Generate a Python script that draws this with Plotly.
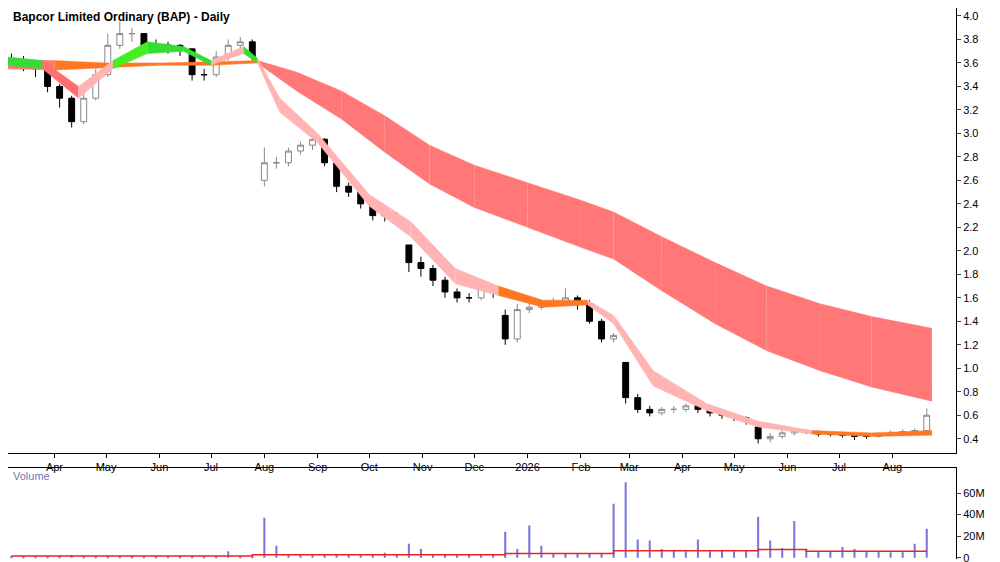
import plotly.graph_objects as go
import pandas as pd

dates = pd.date_range("2025-03-07", periods=77, freq="W-FRI")
close = [3.60,3.60,3.55,3.40,3.30,3.10,3.30,3.50,3.75,3.85,3.85,3.75,3.75,3.75,3.72,3.50,3.50,3.65,3.75,3.78,3.65,
         2.75,2.75,2.85,2.90,2.95,2.75,2.55,2.50,2.40,2.30,2.30,2.30,1.90,1.85,1.75,1.65,1.60,1.60,1.68,1.65,1.25,
         1.50,1.52,1.55,1.55,1.60,1.55,1.40,1.25,1.28,0.75,0.65,0.62,0.65,0.65,0.68,0.65,0.62,0.60,0.58,0.55,0.40,
         0.42,0.45,0.47,0.46,0.44,0.44,0.43,0.42,0.42,0.43,0.45,0.46,0.47,0.60]
opens = [3.62,3.60,3.60,3.55,3.40,3.30,3.10,3.30,3.50,3.75,3.85,3.85,3.75,3.75,3.75,3.72,3.50,3.50,3.65,3.75,3.78,
         2.60,2.75,2.75,2.85,2.90,2.95,2.75,2.55,2.50,2.40,2.30,2.30,2.05,1.90,1.85,1.75,1.65,1.60,1.60,1.68,1.45,
         1.25,1.50,1.52,1.55,1.55,1.60,1.55,1.40,1.25,1.05,0.75,0.65,0.62,0.65,0.65,0.68,0.65,0.62,0.60,0.58,0.50,
         0.40,0.42,0.45,0.47,0.46,0.44,0.44,0.43,0.42,0.42,0.43,0.45,0.46,0.47]
high = [3.68,3.66,3.62,3.58,3.42,3.32,3.35,3.55,3.85,3.95,3.90,3.85,3.80,3.78,3.76,3.72,3.55,3.70,3.80,3.82,3.80,
        2.88,2.80,2.88,2.93,2.98,2.96,2.78,2.58,2.52,2.42,2.35,2.33,2.05,1.95,1.88,1.78,1.68,1.64,1.72,1.70,1.50,
        1.55,1.56,1.58,1.60,1.68,1.62,1.58,1.42,1.30,1.05,0.78,0.68,0.67,0.68,0.70,0.70,0.67,0.64,0.61,0.59,0.52,
        0.45,0.47,0.49,0.48,0.47,0.46,0.45,0.44,0.44,0.45,0.47,0.48,0.49,0.66]
low = [3.55,3.53,3.48,3.35,3.22,3.05,3.08,3.28,3.48,3.72,3.78,3.70,3.70,3.68,3.66,3.45,3.45,3.48,3.62,3.72,3.62,
       2.55,2.70,2.72,2.82,2.86,2.72,2.50,2.46,2.36,2.26,2.25,2.25,1.82,1.78,1.70,1.60,1.56,1.56,1.58,1.60,1.20,
       1.22,1.47,1.50,1.52,1.53,1.50,1.38,1.22,1.22,0.70,0.62,0.59,0.60,0.62,0.63,0.62,0.59,0.57,0.55,0.52,0.36,
       0.37,0.40,0.43,0.44,0.42,0.42,0.41,0.39,0.40,0.41,0.42,0.44,0.45,0.46]
volume_m = [1.5,1.3,1.2,1.6,1.8,2.5,1.5,1.6,1.8,1.7,1.5,1.4,1.3,1.2,1.6,1.8,1.3,1.5,6.0,1.4,1.6,
            37,11,3,2.8,3,2.9,3.1,3.0,3.2,3.1,4.5,3.2,13,8,3.5,3.2,3.0,3.1,3.3,3.5,24,
            8,30,11,4,4,3.8,4,4.2,50,70,17,16,8,7,6,17,6,6.5,6,7,38,
            16,9,34,8,6,6,10,8,6,6,5,5,13,27]
vol_ma_m = [1.5]*20 + [2.8]*21 + [4.0]*9 + [6.5]*12 + [7.5]*4 + [6.0]*11

# slow (long-term) MMA band
slow_dates = pd.to_datetime(["2025-03-05","2025-04-01","2025-05-01","2025-06-01","2025-07-01","2025-07-28",
              "2025-08-20","2025-09-15","2025-10-10","2025-11-05","2025-12-01","2026-01-01","2026-02-01","2026-02-20",
              "2026-03-20","2026-04-20","2026-05-20","2026-06-20","2026-07-20","2026-08-24"])
slow_top = [3.63,3.62,3.60,3.60,3.61,3.62,3.52,3.36,3.15,2.90,2.73,2.58,2.43,2.33,2.12,1.90,1.70,1.55,1.44,1.34]
slow_bot = [3.55,3.54,3.56,3.58,3.58,3.60,3.36,3.12,2.84,2.57,2.37,2.20,2.03,1.93,1.66,1.38,1.15,0.98,0.84,0.72]
slow_col = ["#ff7777","#ff7722","#ff7722","#ff7722","#ff7722"] + ["#ff7777"]*14
# fast MMA band
fast_dates = pd.to_datetime(["2025-03-05","2025-03-25","2025-04-15","2025-05-05","2025-05-25","2025-06-15","2025-07-01",
              "2025-07-20","2025-07-28","2025-08-10","2025-09-01","2025-10-01","2025-10-25","2025-11-20","2025-12-15",
              "2026-01-10","2026-02-05","2026-02-20","2026-03-15","2026-04-15","2026-05-15","2026-06-15","2026-07-20","2026-08-24"])
fast_top = [3.65,3.62,3.40,3.62,3.78,3.74,3.62,3.74,3.64,3.30,3.00,2.48,2.25,1.85,1.70,1.58,1.58,1.45,0.98,0.70,0.55,0.47,0.45,0.47]
fast_bot = [3.58,3.55,3.30,3.55,3.68,3.70,3.58,3.68,3.60,3.18,2.92,2.38,2.12,1.72,1.62,1.52,1.54,1.38,0.85,0.64,0.50,0.44,0.42,0.43]
fast_col = ["#33dd33","#ff6f6f","#ffb3b3","#44ee22","#33dd33","#33dd33","#ffb3b3","#33dd33","#ffb3b3","#ffb3b3","#ffb3b3",
            "#ffb3b3","#ffb3b3","#ffb3b3","#ff7722","#ff7722","#ffb3b3","#ffb3b3","#ffb3b3","#ffb3b3","#ffb3b3","#ff7722","#ff7722","#44ee22"]

fig = go.Figure()

def band(d, top, bot, cols):
    for i in range(len(d)-1):
        c = cols[i]
        fig.add_trace(go.Scatter(x=[d[i], d[i+1]], y=[bot[i], bot[i+1]], mode="lines",
                                 line=dict(width=0.5, color=c), showlegend=False, hoverinfo="skip"))
        fig.add_trace(go.Scatter(x=[d[i], d[i+1]], y=[top[i], top[i+1]], mode="lines", fill="tonexty",
                                 fillcolor=c, line=dict(width=0.5, color=c), showlegend=False, hoverinfo="skip"))

band(slow_dates, slow_top, slow_bot, slow_col)
band(fast_dates, fast_top, fast_bot, fast_col)

fig.add_trace(go.Candlestick(x=dates, open=opens, high=high, low=low, close=close,
                             increasing=dict(line=dict(color="#888888", width=1), fillcolor="white"),
                             decreasing=dict(line=dict(color="black", width=1), fillcolor="black"),
                             whiskerwidth=0, showlegend=False, yaxis="y", xaxis="x"))

fig.add_trace(go.Bar(x=dates, y=volume_m, marker=dict(color="#7777dd", line=dict(width=0)), width=1.2*86400000,
                     xaxis="x2", yaxis="y2", showlegend=False))
fig.add_trace(go.Scatter(x=dates, y=vol_ma_m, mode="lines", line=dict(color="#ee2222", width=1.5, shape="hv"),
                         xaxis="x2", yaxis="y2", showlegend=False))

months = pd.to_datetime(["2025-04-01","2025-05-01","2025-06-01","2025-07-01","2025-08-01","2025-09-01","2025-10-01",
                         "2025-11-01","2025-12-01","2026-01-01","2026-02-01","2026-03-01","2026-04-01","2026-05-01",
                         "2026-06-01","2026-07-01","2026-08-01"])
month_labels = ["Apr","May","Jun","Jul","Aug","Sep","Oct","Nov","Dec","2026","Feb","Mar","Apr","May","Jun","Jul","Aug"]
xr = ["2025-03-05", "2026-09-07"]
price_ticks = [0.4,0.6,0.8,1.0,1.2,1.4,1.6,1.8,2.0,2.2,2.4,2.6,2.8,3.0,3.2,3.4,3.6,3.8,4.0]

font = dict(family="Liberation Sans, Arial", size=11, color="black")
fig.update_layout(
    width=1000, height=562, margin=dict(l=0, r=52, t=0, b=0),
    paper_bgcolor="white", plot_bgcolor="white", font=font, showlegend=False,
    xaxis=dict(range=xr, domain=[0,1], anchor="y", rangeslider=dict(visible=False), showgrid=False,
               tickvals=months, ticktext=month_labels, ticks="outside", ticklen=4, tickcolor="black",
               showline=True, linecolor="black", tickfont=dict(size=11, color="black"), zeroline=False),
    yaxis=dict(domain=[0.203,1], range=[0.281,4.068], side="right", showgrid=False, tickvals=price_ticks,
               tickformat=".1f", ticks="outside", ticklen=4, showline=True, linecolor="black", zeroline=False),
    xaxis2=dict(range=xr, domain=[0,1], anchor="y2", showticklabels=False, showgrid=False, showline=True,
                linecolor="black", zeroline=False, side="top"),
    yaxis2=dict(domain=[0.012,0.175], range=[-1.5,83], side="right", showgrid=False, tickvals=[0,20,40,60],
                ticktext=["0","20M","40M","60M"], ticks="outside", ticklen=4, showline=True, linecolor="black",
                zeroline=False),
    annotations=[
        dict(text="<b>Bapcor Limited Ordinary (BAP) - Daily</b>", x=0.003, y=1.0, xref="paper", yref="paper",
             xanchor="left", yanchor="top", showarrow=False, font=dict(size=12, color="black")),
        dict(text="Volume", x=0.003, y=0.175, xref="paper", yref="paper", xanchor="left", yanchor="top",
             showarrow=False, font=dict(size=11, color="#7777bb")),
    ],
)
fig.write_html("out.html")
